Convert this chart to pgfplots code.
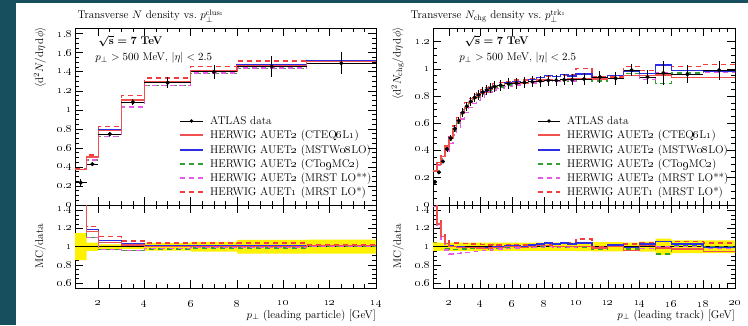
\documentclass[border=0pt]{standalone}
\usepackage{amsmath}
\usepackage{pgfplots}
\pgfplotsset{compat=1.18}
\usepackage{pgfplotstable}
\definecolor{bgteal}{RGB}{23,79,94}
\definecolor{cRed}{RGB}{240,80,80}
\definecolor{cBlue}{RGB}{45,45,225}
\definecolor{cGreen}{RGB}{50,160,50}
\definecolor{cMag}{RGB}{230,90,230}
\definecolor{cRedD}{RGB}{245,60,60}
\newcommand{\os}[1]{\oldstylenums{#1}}

\pgfplotstableread{
lo   xc    hw    d      e      m1     m2     m3     m4     m5
1    1.25  0.25  0.235  0.035  0.375  0.370  0.380  0.370  0.385
1.5  1.75  0.25  0.43   0.02   0.503  0.512  0.473  0.473  0.525
2    2.5   0.5   0.745  0.02   0.782  0.797  0.723  0.723  0.827
3    3.5   0.5   1.08   0.03   1.102  1.112  1.037  1.031  1.150
4    5     1     1.285  0.055  1.291  1.298  1.253  1.259  1.336
6    7     1     1.40   0.075  1.407  1.414  1.379  1.386  1.456
8    9.5   1.5   1.455  0.11   1.462  1.470  1.433  1.440  1.513
11   12.5  1.5   1.49   0.115  1.505  1.512  1.490  1.490  1.520
14   12.5  1.5   1.49   0.115  1.505  1.512  1.490  1.490  1.520
}\leftdata

\pgfplotstableread{
lo    xc     hw    d      e      r1     r2     r3     r4     r5
1     1.125  0.125 0.17   0.008  1.47   1.47   1.44   1.44   1.50
1.25  1.375  0.125 0.24   0.011  1.25   1.25   1.21   1.21   1.29
1.5   1.625  0.125 0.32   0.014  1.11   1.11   1.06   1.08   1.14
1.75  1.875  0.125 0.41   0.018  1.037  1.037  0.976  0.963  1.07
2     2.125  0.125 0.49   0.022  1.00   1.01   0.97   0.92   1.04
2.25  2.375  0.125 0.56   0.025  1.00   1.00   0.97   0.92   1.04
2.5   2.625  0.125 0.62   0.028  0.99   1.00   0.97   0.925  1.04
2.75  2.875  0.125 0.68   0.031  0.99   1.00   0.975  0.93   1.035
3     3.125  0.125 0.725  0.033  0.99   0.99   0.975  0.935  1.035
3.25  3.375  0.125 0.76   0.034  0.99   0.99   0.98   0.94   1.03
3.5   3.625  0.125 0.79   0.036  0.99   0.99   0.98   0.945  1.03
3.75  3.875  0.125 0.81   0.036  0.985  0.99   0.98   0.95   1.03
4     4.125  0.125 0.83   0.037  0.985  0.99   0.98   0.955  1.025
4.25  4.375  0.125 0.845  0.038  0.98   0.985  0.975  0.96   1.02
4.5   4.625  0.125 0.86   0.039  0.985  0.99   0.98   0.965  1.02
4.75  4.875  0.125 0.87   0.039  0.99   1.00   0.985  0.97   1.025
5     5.25   0.25  0.88   0.040  0.995  1.00   0.985  0.975  1.02
5.5   5.75   0.25  0.89   0.040  1.00   1.01   0.99   0.98   1.02
6     6.25   0.25  0.895  0.040  1.00   1.01   0.99   0.985  1.025
6.5   6.75   0.25  0.90   0.041  0.995  1.00   0.99   0.99   1.02
7     7.25   0.25  0.905  0.041  1.00   1.02   0.995  0.99   1.025
7.5   7.75   0.25  0.91   0.041  1.01   1.03   1.00   0.995  1.03
8     8.25   0.25  0.915  0.041  1.01   1.04   1.00   1.00   1.03
8.5   8.75   0.25  0.915  0.041  1.00   1.03   0.99   0.99   1.03
9     9.25   0.25  0.92   0.041  1.00   1.04   0.995  1.00   1.035
9.5   9.75   0.25  0.92   0.041  1.005  1.03   0.99   0.99   1.04
10    10.5   0.5   0.925  0.046  1.00   1.04   0.995  1.00   1.085
11    11.5   0.5   0.94   0.047  0.985  0.99   0.97   0.98   1.00
12    12.5   0.5   0.93   0.047  1.00   1.02   1.02   1.00   1.01
13    13.5   0.5   0.99   0.045  0.96   0.99   0.975  0.99   1.03
14    14.5   0.5   0.94   0.052  1.01   1.03   1.03   0.98   1.05
15    15.5   0.5   0.97   0.087  0.985  1.06   0.92   1.00   1.06
16    17     1     0.96   0.067  0.975  1.03   1.01   1.00   1.06
18    19     1     0.99   0.069  0.945  0.99   1.00   0.985  1.04
20    19     1     0.99   0.069  0.945  0.99   1.00   0.985  1.04
}\rightdata

\tikzset{
  lA/.style={draw=cRed, color=cRed, line width=1.3pt, solid},
  lB/.style={draw=cBlue, color=cBlue, line width=1.3pt, solid},
  lC/.style={draw=cGreen, color=cGreen, line width=1.3pt, dash pattern=on 5pt off 4pt},
  lD/.style={draw=cMag, color=cMag, line width=1.3pt, dash pattern=on 5pt off 4pt},
  lE/.style={draw=cRedD, color=cRedD, line width=1.3pt, dash pattern=on 5pt off 4pt},
  legtext/.style={anchor=base west, inner sep=0pt, yshift=-3.6pt, text=black, font=\fontsize{11.2}{13}\selectfont},
}
% manual legend: #1 line start, #2 line middle, #3 line end, #4 text start (rel axis cs)
\newcommand{\mylegend}[4]{%
  \draw[black, solid, line width=0.8pt] (rel axis cs:#1,0.4746) -- (rel axis cs:#3,0.4746);
  \fill[black] (rel axis cs:#2,0.4746) circle[radius=1.8pt];
  \node[legtext] at (rel axis cs:#4,0.4746) {ATLAS data};
  \draw[lA] (rel axis cs:#1,0.3955) -- (rel axis cs:#3,0.3955);
  \node[legtext] at (rel axis cs:#4,0.3955) {HERWIG AUET\os{2} (CTEQ\os{6}L\os{1})};
  \draw[lB] (rel axis cs:#1,0.3107) -- (rel axis cs:#3,0.3107);
  \node[legtext] at (rel axis cs:#4,0.3107) {HERWIG AUET\os{2} (MSTW\os{08}LO)};
  \draw[lC] (rel axis cs:#1,0.2316) -- (rel axis cs:#3,0.2316);
  \node[legtext] at (rel axis cs:#4,0.2316) {HERWIG AUET\os{2} (CT\os{09}MC\os{2})};
  \draw[lD] (rel axis cs:#1,0.1525) -- (rel axis cs:#3,0.1525);
  \node[legtext] at (rel axis cs:#4,0.1525) {HERWIG AUET\os{2} (MRST LO**)};
  \draw[lE] (rel axis cs:#1,0.0734) -- (rel axis cs:#3,0.0734);
  \node[legtext] at (rel axis cs:#4,0.0734) {HERWIG AUET\os{1} (MRST LO*)};
}

\pgfplotsset{
  rivet/.style={
    scale only axis,
    tick pos=both, tick align=inside,
    major tick length=8pt, minor tick length=4pt,
    every tick/.style={black, line width=0.6pt},
    axis line style={line width=0.6pt},
    tick label style={font=\fontsize{10.5}{12}\selectfont},
    minor x tick num=3, minor y tick num=3,
    xtick={2,4,6,8,10,12,14,16,18,20},
    clip=true,
  },
  hist/.style={const plot mark left, mark=none},
  datast/.style={black, only marks, mark=*, mark size=1.9pt,
    error bars/x dir=both, error bars/x explicit, error bars/y dir=both, error bars/y explicit,
    error bars/error mark=none, error bars/error bar style={black, line width=0.8pt}},
}

\begin{document}
\begin{tikzpicture}[font=\fontsize{11.2}{13}\selectfont]
\useasboundingbox (0pt,0pt) rectangle (748pt,325pt);
\fill[bgteal] (0pt,0pt) rectangle (748pt,325pt);
\fill[white] (16pt,0pt) rectangle (748pt,322pt);

% ---------------- left main
\begin{axis}[rivet, at={(75pt,297pt)}, anchor=north west, width=301pt, height=177pt,
  xmin=1, xmax=14, ymin=0, ymax=1.86, xticklabels={},
  ytick={0,0.2,0.4,0.6,0.8,1,1.2,1.4,1.6,1.8},
  yticklabels={\os{0},\os{0}.\os{2},\os{0}.\os{4},\os{0}.\os{6},\os{0}.\os{8},\os{1},\os{1}.\os{2},\os{1}.\os{4},\os{1}.\os{6},\os{1}.\os{8}}]
\addplot[lC, hist] table[x=lo, y=m3] {\leftdata};
\addplot[lD, hist] table[x=lo, y=m4] {\leftdata};
\addplot[lE, hist] table[x=lo, y=m5] {\leftdata};
\addplot[lB, hist] table[x=lo, y=m2] {\leftdata};
\addplot[lA, hist] table[x=lo, y=m1] {\leftdata};
\addplot[skip coords between index={8}{9}, datast] table[x=xc, y=d, x error=hw, y error=e] {\leftdata};
\node[anchor=base west] at (rel axis cs:0.066,0.905) {{\boldmath$\sqrt{\mathbf{s}} = 7$}~\textbf{TeV}};
\node[anchor=base west] at (rel axis cs:0.056,0.815) {$p_\perp > 500$~MeV, $|\eta| < 2.5$};
\mylegend{0.349}{0.387}{0.425}{0.4485}
\end{axis}

% ---------------- left ratio
\begin{axis}[rivet, at={(75pt,120pt)}, anchor=north west, width=301pt, height=83pt,
  xmin=1, xmax=14, ymin=0.545, ymax=1.46,
  xticklabels={\os{2},\os{4},\os{6},\os{8},\os{10},\os{12},\os{14}},
  xticklabel style={yshift=-9pt},
  ytick={0.6,0.8,1,1.2,1.4},
  yticklabels={\os{0}.\os{6},\os{0}.\os{8},\os{1},\os{1}.\os{2},\os{1}.\os{4}}]
\addplot[draw=none, const plot mark left, stack plots=y, forget plot] table[x=lo, y expr={1-\thisrow{e}/\thisrow{d}}] {\leftdata};
\addplot[draw=none, fill=yellow, const plot mark left, stack plots=y, forget plot] table[x=lo, y expr={2*\thisrow{e}/\thisrow{d}}] {\leftdata} \closedcycle;
\addplot[black, line width=0.9pt, forget plot] coordinates {(1,1) (14,1)};
\addplot[lC, hist] table[x=lo, y expr={\thisrow{m3}/\thisrow{d}}] {\leftdata};
\addplot[lD, hist] table[x=lo, y expr={\thisrow{m4}/\thisrow{d}}] {\leftdata};
\addplot[lE, hist] table[x=lo, y expr={\thisrow{m5}/\thisrow{d}}] {\leftdata};
\addplot[lB, hist] table[x=lo, y expr={\thisrow{m2}/\thisrow{d}}] {\leftdata};
\addplot[lA, hist] table[x=lo, y expr={\thisrow{m1}/\thisrow{d}}] {\leftdata};
\end{axis}

% ---------------- right main
\begin{axis}[rivet, at={(433pt,297pt)}, anchor=north west, width=302pt, height=177pt,
  xmin=1, xmax=20, ymin=0, ymax=1.3, xticklabels={},
  ytick={0,0.2,0.4,0.6,0.8,1,1.2},
  yticklabels={\os{0},\os{0}.\os{2},\os{0}.\os{4},\os{0}.\os{6},\os{0}.\os{8},\os{1},\os{1}.\os{2}}]
\addplot[lC, hist] table[x=lo, y expr={\thisrow{d}*\thisrow{r3}}] {\rightdata};
\addplot[lD, hist] table[x=lo, y expr={\thisrow{d}*\thisrow{r4}}] {\rightdata};
\addplot[lE, hist] table[x=lo, y expr={\thisrow{d}*\thisrow{r5}}] {\rightdata};
\addplot[lB, hist] table[x=lo, y expr={\thisrow{d}*\thisrow{r2}}] {\rightdata};
\addplot[lA, hist] table[x=lo, y expr={\thisrow{d}*\thisrow{r1}}] {\rightdata};
\addplot[skip coords between index={34}{35}, datast] table[x=xc, y=d, x error=hw, y error=e] {\rightdata};
\node[anchor=base west] at (rel axis cs:0.093,0.905) {{\boldmath$\sqrt{\mathbf{s}} = 7$}~\textbf{TeV}};
\node[anchor=base west] at (rel axis cs:0.076,0.815) {$p_\perp > 500$~MeV, $|\eta| < 2.5$};
\mylegend{0.3477}{0.3841}{0.4205}{0.4437}
\end{axis}

% ---------------- right ratio
\begin{axis}[rivet, at={(433pt,120pt)}, anchor=north west, width=302pt, height=83pt,
  xmin=1, xmax=20, ymin=0.545, ymax=1.46,
  xticklabels={\os{2},\os{4},\os{6},\os{8},\os{10},\os{12},\os{14},\os{16},\os{18},\os{20}},
  xticklabel style={yshift=-9pt},
  ytick={0.6,0.8,1,1.2,1.4},
  yticklabels={\os{0}.\os{6},\os{0}.\os{8},\os{1},\os{1}.\os{2},\os{1}.\os{4}}]
\addplot[draw=none, const plot mark left, stack plots=y, forget plot] table[x=lo, y expr={1-\thisrow{e}/\thisrow{d}}] {\rightdata};
\addplot[draw=none, fill=yellow, const plot mark left, stack plots=y, forget plot] table[x=lo, y expr={2*\thisrow{e}/\thisrow{d}}] {\rightdata} \closedcycle;
\addplot[black, line width=0.9pt, forget plot] coordinates {(1,1) (20,1)};
\addplot[lC, hist] table[x=lo, y=r3] {\rightdata};
\addplot[lD, hist] table[x=lo, y=r4] {\rightdata};
\addplot[lE, hist] table[x=lo, y=r5] {\rightdata};
\addplot[lB, hist] table[x=lo, y=r2] {\rightdata};
\addplot[lA, hist] table[x=lo, y=r1] {\rightdata};
\end{axis}

% ---------------- titles and labels
\node[anchor=base west] at (74pt,306pt) {Transverse $N$ density vs.\ $p_\perp^{\text{clus\os{1}}}$};
\node[anchor=base west] at (407pt,306pt) {Transverse $N_{\text{chg}}$ density vs.\ $p_\perp^{\text{trk\os{1}}}$};
\node[rotate=90, anchor=south east, inner sep=0pt] at (46pt,298pt) {$\langle \mathrm{d}^2 N/\mathrm{d}\eta\,\mathrm{d}\phi\rangle$};
\node[rotate=90, anchor=south east, inner sep=0pt] at (404pt,298pt) {$\langle \mathrm{d}^2 N_{\text{chg}}/\mathrm{d}\eta\,\mathrm{d}\phi\rangle$};
\node[rotate=90, anchor=south, inner sep=0pt] at (46pt,78.5pt) {MC/data};
\node[rotate=90, anchor=south, inner sep=0pt] at (404pt,78.5pt) {MC/data};
\node[anchor=base east, inner sep=0pt] at (376pt,7pt) {$p_\perp$ (leading particle) [GeV]};
\node[anchor=base east, inner sep=0pt] at (735pt,7pt) {$p_\perp$ (leading track) [GeV]};
\end{tikzpicture}
\end{document}
